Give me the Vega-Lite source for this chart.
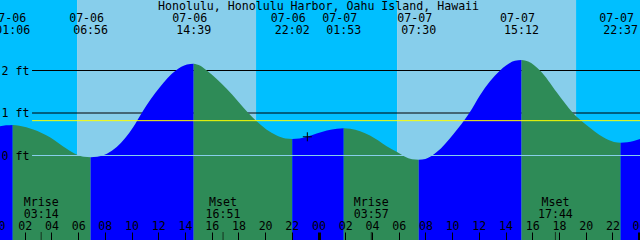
{
  "$schema": "https://vega.github.io/schema/vega-lite/v6.json",
  "width": 640,
  "height": 240,
  "padding": 0,
  "autosize": {"type": "none"},
  "config": {"view": {"stroke": null}, "font": "DejaVu Sans Mono", "axis": {"labelOverlap": false, "labelBound": false, "labelFlush": false}},
  "datasets": {
    "bands": [
      {"h": -1, "h2": 5.92, "sky": "night"},
      {"h": 5.92, "h2": 19.32, "sky": "day"},
      {"h": 19.32, "h2": 29.88, "sky": "night"},
      {"h": 29.88, "h2": 43.28, "sky": "day"},
      {"h": 43.28, "h2": 49, "sky": "night"}
    ],
    "tide": [
      {"seg": "A", "dir": "rise", "h": 0, "ft": 0.68},
      {"seg": "A", "dir": "rise", "h": 0.6, "ft": 0.71},
      {"seg": "A", "dir": "rise", "h": 1.1, "ft": 0.72},
      {"seg": "B", "dir": "fall", "h": 1.1, "ft": 0.72},
      {"seg": "B", "dir": "fall", "h": 1.6, "ft": 0.70},
      {"seg": "B", "dir": "fall", "h": 2.64, "ft": 0.61},
      {"seg": "B", "dir": "fall", "h": 3.89, "ft": 0.43},
      {"seg": "B", "dir": "fall", "h": 5.14, "ft": 0.16},
      {"seg": "B", "dir": "fall", "h": 5.92, "ft": 0.02},
      {"seg": "B", "dir": "fall", "h": 6.43, "ft": -0.03},
      {"seg": "B", "dir": "fall", "h": 6.933, "ft": -0.04},
      {"seg": "C", "dir": "rise", "h": 6.933, "ft": -0.04},
      {"seg": "C", "dir": "rise", "h": 7.43, "ft": -0.03},
      {"seg": "C", "dir": "rise", "h": 8.89, "ft": 0.20},
      {"seg": "C", "dir": "rise", "h": 10.13, "ft": 0.67},
      {"seg": "C", "dir": "rise", "h": 10.76, "ft": 1.0},
      {"seg": "C", "dir": "rise", "h": 12.13, "ft": 1.61},
      {"seg": "C", "dir": "rise", "h": 13.31, "ft": 2.0},
      {"seg": "C", "dir": "rise", "h": 14.15, "ft": 2.14},
      {"seg": "C", "dir": "rise", "h": 14.65, "ft": 2.16},
      {"seg": "D", "dir": "fall", "h": 14.65, "ft": 2.16},
      {"seg": "D", "dir": "fall", "h": 15.15, "ft": 2.11},
      {"seg": "D", "dir": "fall", "h": 15.63, "ft": 2.0},
      {"seg": "D", "dir": "fall", "h": 17.12, "ft": 1.57},
      {"seg": "D", "dir": "fall", "h": 18.74, "ft": 1.0},
      {"seg": "D", "dir": "fall", "h": 19.32, "ft": 0.82},
      {"seg": "D", "dir": "fall", "h": 20.87, "ft": 0.47},
      {"seg": "D", "dir": "fall", "h": 21.53, "ft": 0.40},
      {"seg": "D", "dir": "fall", "h": 22.033, "ft": 0.39},
      {"seg": "E", "dir": "rise", "h": 22.033, "ft": 0.39},
      {"seg": "E", "dir": "rise", "h": 22.57, "ft": 0.40},
      {"seg": "E", "dir": "rise", "h": 23.12, "ft": 0.44},
      {"seg": "E", "dir": "rise", "h": 23.86, "ft": 0.52},
      {"seg": "E", "dir": "rise", "h": 25.38, "ft": 0.63},
      {"seg": "E", "dir": "rise", "h": 25.883, "ft": 0.64},
      {"seg": "F", "dir": "fall", "h": 25.883, "ft": 0.64},
      {"seg": "F", "dir": "fall", "h": 26.38, "ft": 0.63},
      {"seg": "F", "dir": "fall", "h": 27.85, "ft": 0.47},
      {"seg": "F", "dir": "fall", "h": 29.1, "ft": 0.22},
      {"seg": "F", "dir": "fall", "h": 29.88, "ft": 0.08},
      {"seg": "F", "dir": "fall", "h": 31.0, "ft": -0.09},
      {"seg": "F", "dir": "fall", "h": 31.5, "ft": -0.10},
      {"seg": "G", "dir": "rise", "h": 31.5, "ft": -0.10},
      {"seg": "G", "dir": "rise", "h": 32.0, "ft": -0.08},
      {"seg": "G", "dir": "rise", "h": 32.85, "ft": 0.08},
      {"seg": "G", "dir": "rise", "h": 34.09, "ft": 0.50},
      {"seg": "G", "dir": "rise", "h": 35.29, "ft": 1.0},
      {"seg": "G", "dir": "rise", "h": 36.09, "ft": 1.42},
      {"seg": "G", "dir": "rise", "h": 37.59, "ft": 2.0},
      {"seg": "G", "dir": "rise", "h": 38.7, "ft": 2.23},
      {"seg": "G", "dir": "rise", "h": 39.2, "ft": 2.25},
      {"seg": "H", "dir": "fall", "h": 39.2, "ft": 2.25},
      {"seg": "H", "dir": "fall", "h": 39.7, "ft": 2.21},
      {"seg": "H", "dir": "fall", "h": 40.58, "ft": 2.0},
      {"seg": "H", "dir": "fall", "h": 41.83, "ft": 1.49},
      {"seg": "H", "dir": "fall", "h": 43.05, "ft": 1.0},
      {"seg": "H", "dir": "fall", "h": 44.08, "ft": 0.71},
      {"seg": "H", "dir": "fall", "h": 45.32, "ft": 0.43},
      {"seg": "H", "dir": "fall", "h": 46.12, "ft": 0.32},
      {"seg": "H", "dir": "fall", "h": 46.617, "ft": 0.30},
      {"seg": "I", "dir": "rise", "h": 46.617, "ft": 0.30},
      {"seg": "I", "dir": "rise", "h": 47.12, "ft": 0.31},
      {"seg": "I", "dir": "rise", "h": 48.1, "ft": 0.39}
    ],
    "events": [
      {"h": 1.1, "date": "07-06", "time": "01:06"},
      {"h": 6.933, "date": "07-06", "time": "06:56"},
      {"h": 14.65, "date": "07-06", "time": "14:39"},
      {"h": 22.033, "date": "07-06", "time": "22:02"},
      {"h": 25.883, "date": "07-07", "time": "01:53"},
      {"h": 31.5, "date": "07-07", "time": "07:30"},
      {"h": 39.2, "date": "07-07", "time": "15:12"},
      {"h": 46.617, "date": "07-07", "time": "22:37"}
    ],
    "moon": [
      {"h": 3.233, "kind": "Mrise", "time": "03:14"},
      {"h": 16.85, "kind": "Mset", "time": "16:51"},
      {"h": 27.95, "kind": "Mrise", "time": "03:57"},
      {"h": 41.733, "kind": "Mset", "time": "17:44"}
    ],
    "datum": [{"ft": 0}],
    "grid": [{"ft": 1}, {"ft": 2}],
    "msl": [{"ft": 0.82}],
    "now": [{"h": 23.16, "ft": 0.44}],
    "title": [{"label": "Honolulu, Honolulu Harbor, Oahu Island, Hawaii"}]
  },
  "resolve": {"scale": {"color": "independent"}},
  "layer": [
    {
      "data": {"name": "bands"},
      "mark": {"type": "rect", "clip": true},
      "encoding": {
        "x": {"field": "h", "type": "quantitative", "scale": {"domain": [0, 48], "range": [-2, 639.1], "nice": false, "zero": false},
          "axis": {"title": null, "orient": "bottom", "offset": -8, "tickCount": 60, "values": [0,2,4,6,8,10,12,14,16,18,20,22,24,26,28,30,32,34,36,38,40,42,44,46,48],
            "labelExpr": "(datum.value % 24 < 10 ? '0' : '') + (datum.value % 24)",
            "domain": false, "grid": false, "tickSize": 8, "tickColor": "#000000",
            "tickWidth": {"condition": {"test": "datum.value % 24 === 0", "value": 3}, "value": 1},
            "labelFont": "DejaVu Sans Mono", "labelFontSize": 11.6, "labelColor": "#000000",
            "labelBaseline": "alphabetic", "labelPadding": -10.7, "labelFlush": false, "labelOverlap": false, "labelBound": false, "zindex": 2}},
        "x2": {"field": "h2"},
        "color": {"field": "sky", "type": "nominal", "scale": {"domain": ["night", "day"], "range": ["#00BFFF", "#87CEEB"]}, "legend": null}
      }
    },
    {
      "data": {"name": "grid"},
      "mark": {"type": "rule", "color": "#000000", "strokeWidth": 1},
      "encoding": {
        "x": {"datum": 2.55, "type": "quantitative"},
        "x2": {"datum": 48.07},
        "y": {"field": "ft", "type": "quantitative", "scale": {"domain": [-1.988, 3.659], "nice": false, "zero": false},
          "axis": {"title": null, "orient": "left", "values": [0, 1, 2], "labelExpr": "datum.value + ' ft'",
            "domain": false, "ticks": false, "grid": false, "labelAlign": "left", "labelPadding": -1,
            "labelBaseline": "alphabetic", "labelOffset": 3.5,
            "labelFont": "DejaVu Sans Mono", "labelFontSize": 11.6, "labelColor": "#000000", "labelBound": false, "labelFlush": false, "zindex": 2}}
      }
    },
    {
      "data": {"name": "tide"},
      "mark": {"type": "area", "interpolate": "monotone", "clip": true},
      "encoding": {
        "x": {"field": "h", "type": "quantitative"},
        "y": {"field": "ft", "type": "quantitative", "stack": null},
        "y2": {"value": "height"},
        "detail": {"field": "seg"},
        "color": {"field": "dir", "type": "nominal", "scale": {"domain": ["rise", "fall"], "range": ["#0000FF", "#2E8B57"]}, "legend": null}
      }
    },
    {
      "data": {"name": "msl"},
      "mark": {"type": "rule", "color": "#FFFF00", "strokeWidth": 1},
      "encoding": {
        "x": {"datum": 2.55, "type": "quantitative"},
        "x2": {"datum": 48.07},
        "y": {"field": "ft", "type": "quantitative"}
      }
    },
    {
      "data": {"name": "datum"},
      "mark": {"type": "rule", "color": "#87CEEB", "strokeWidth": 1},
      "encoding": {
        "x": {"datum": 2.55, "type": "quantitative"},
        "x2": {"datum": 48.07},
        "y": {"field": "ft", "type": "quantitative"}
      }
    },
    {
      "data": {"name": "now"},
      "mark": {"type": "point", "shape": "M-1,0L1,0M0,-1L0,1", "filled": false, "stroke": "#000000", "strokeWidth": 1, "size": 81, "opacity": 1},
      "encoding": {
        "x": {"field": "h", "type": "quantitative"},
        "y": {"field": "ft", "type": "quantitative"}
      }
    },
    {
      "data": {"name": "moon"},
      "mark": {"type": "rule", "color": "#15331f", "strokeWidth": 1},
      "encoding": {
        "x": {"field": "h", "type": "quantitative"},
        "y": {"datum": -1.988},
        "y2": {"datum": -1.80}
      }
    },
    {
      "data": {"name": "moon"},
      "mark": {"type": "text", "font": "DejaVu Sans Mono", "fontSize": 11.6, "color": "#000000", "align": "center", "baseline": "alphabetic"},
      "encoding": {
        "x": {"field": "h", "type": "quantitative"},
        "y": {"datum": -1.181},
        "text": {"field": "kind"}
      }
    },
    {
      "data": {"name": "moon"},
      "mark": {"type": "text", "font": "DejaVu Sans Mono", "fontSize": 11.6, "color": "#000000", "align": "center", "baseline": "alphabetic"},
      "encoding": {
        "x": {"field": "h", "type": "quantitative"},
        "y": {"datum": -1.459},
        "text": {"field": "time"}
      }
    },
    {
      "data": {"name": "events"},
      "mark": {"type": "text", "font": "DejaVu Sans Mono", "fontSize": 11.6, "color": "#000000", "align": "center", "baseline": "alphabetic", "dx": -4},
      "encoding": {
        "x": {"field": "h", "type": "quantitative"},
        "y": {"datum": 3.153},
        "text": {"field": "date"}
      }
    },
    {
      "data": {"name": "events"},
      "mark": {"type": "text", "font": "DejaVu Sans Mono", "fontSize": 11.6, "color": "#000000", "align": "center", "baseline": "alphabetic"},
      "encoding": {
        "x": {"field": "h", "type": "quantitative"},
        "y": {"datum": 2.866},
        "text": {"field": "time"}
      }
    },
    {
      "data": {"name": "title"},
      "mark": {"type": "text", "font": "DejaVu Sans Mono", "fontSize": 11.6, "color": "#000000", "align": "center", "baseline": "alphabetic"},
      "encoding": {
        "x": {"datum": 24.0, "type": "quantitative"},
        "y": {"datum": 3.435},
        "text": {"field": "label"}
      }
    }
  ]
}
